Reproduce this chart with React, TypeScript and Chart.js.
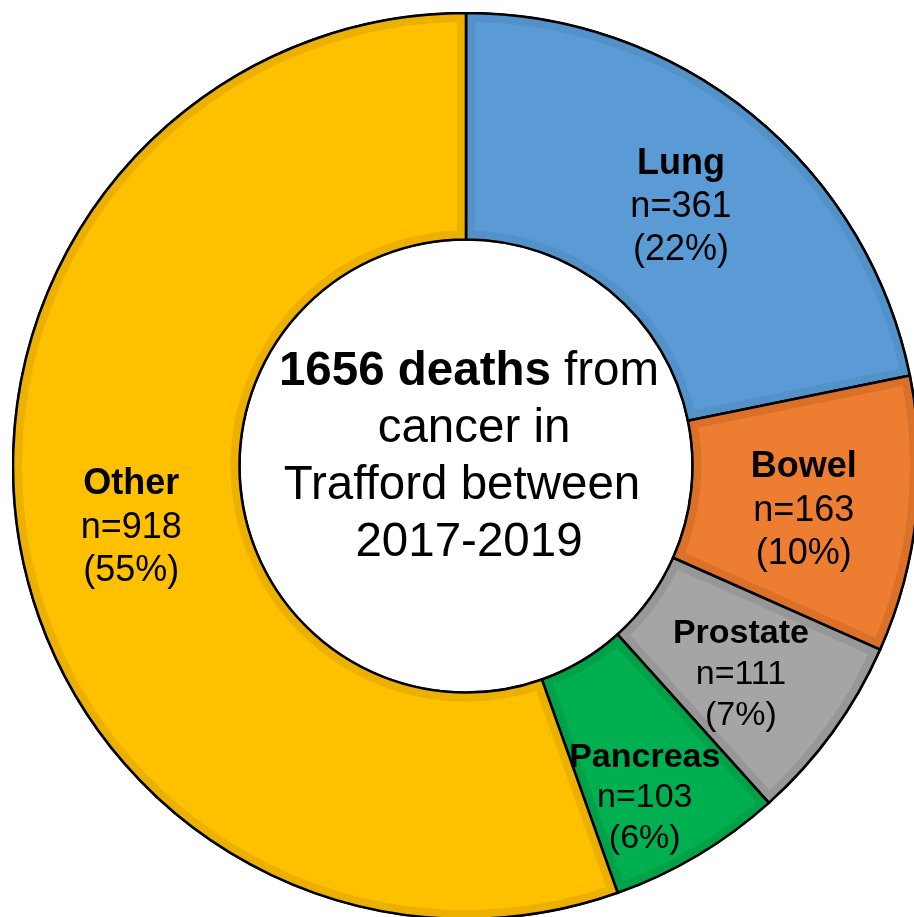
import React, { useEffect, useRef } from "react";
import { Chart, registerables } from "chart.js";

Chart.register(...registerables);

const categories = ["Lung", "Bowel", "Prostate", "Pancreas", "Other"];
const deaths = [361, 163, 111, 103, 918];
const colors = ["#5B9BD5", "#ED7D31", "#A5A5A5", "#00B050", "#FFC000"];
const bandColors = ["#5391C9", "#DB7129", "#979797", "#00A248", "#ECB100"];
const labelFontSizes = [36, 36, 34, 34, 36];
const labelNudgeX = [0, 0, 0, 5, 0];
const labelNudgeY = [0, 4, 5, 36, 0];
const centerLines = ["cancer in", "Trafford between", "2017-2019"];
const centerLineNudgeX = [0, 5, -7, 0];
const totalDeaths = deaths.reduce((a, b) => a + b, 0);

const FONT = '"Liberation Sans", Arial, sans-serif';

function arcPath(ctx: CanvasRenderingContext2D, a: any) {
  ctx.beginPath();
  ctx.arc(a.x, a.y, a.outerRadius, a.startAngle, a.endAngle);
  ctx.arc(a.x, a.y, a.innerRadius, a.endAngle, a.startAngle, true);
  ctx.closePath();
}

const decorPlugin = {
  id: "decor",
  afterDatasetsDraw(chart: any) {
    const ctx: CanvasRenderingContext2D = chart.ctx;
    const meta = chart.getDatasetMeta(0);
    meta.data.forEach((el: any, i: number) => {
      const a = el.getProps(["x", "y", "startAngle", "endAngle", "innerRadius", "outerRadius"], true);
      ctx.save();
      arcPath(ctx, a);
      ctx.clip();
      ctx.strokeStyle = bandColors[i];
      ctx.lineWidth = 18;
      ctx.lineJoin = "miter";
      ctx.stroke();
      ctx.restore();
      ctx.save();
      arcPath(ctx, a);
      ctx.strokeStyle = "#000000";
      ctx.lineWidth = 2.6;
      ctx.lineJoin = "miter";
      ctx.stroke();
      ctx.restore();
    });

    // segment labels
    meta.data.forEach((el: any, i: number) => {
      const a = el.getProps(["x", "y", "startAngle", "endAngle", "innerRadius", "outerRadius"], true);
      const mid = (a.startAngle + a.endAngle) / 2;
      const r = (a.innerRadius + a.outerRadius) / 2;
      const cx = a.x + Math.cos(mid) * r + labelNudgeX[i];
      const cy = a.y + Math.sin(mid) * r + labelNudgeY[i] + 4;
      const fs = labelFontSizes[i];
      const lh = fs * 1.2;
      const pct = Math.round((deaths[i] / totalDeaths) * 100);
      ctx.save();
      ctx.fillStyle = "#000000";
      ctx.textAlign = "center";
      ctx.textBaseline = "middle";
      ctx.font = `bold ${fs}px ${FONT}`;
      ctx.fillText(categories[i], cx, cy - lh);
      ctx.font = `${fs}px ${FONT}`;
      ctx.fillText(`n=${deaths[i]}`, cx, cy);
      ctx.fillText(`(${pct}%)`, cx, cy + lh);
      ctx.restore();
    });

    // center text
    const c = meta.data[0];
    const cx = c.x + 3;
    const cy = c.y;
    const fs = 47.5;
    const lh = 57;
    ctx.save();
    ctx.fillStyle = "#000000";
    ctx.textBaseline = "middle";
    ctx.textAlign = "left";
    const boldPart = `${totalDeaths} deaths`;
    const regPart = " from";
    ctx.font = `bold ${fs}px ${FONT}`;
    const wb = ctx.measureText(boldPart).width;
    ctx.font = `${fs}px ${FONT}`;
    const wr = ctx.measureText(regPart).width;
    const y0 = cy - 1.5 * lh - 9;
    const x0 = cx + centerLineNudgeX[0] - (wb + wr) / 2;
    ctx.font = `bold ${fs}px ${FONT}`;
    ctx.fillText(boldPart, x0, y0);
    ctx.font = `${fs}px ${FONT}`;
    ctx.fillText(regPart, x0 + wb, y0);
    ctx.textAlign = "center";
    centerLines.forEach((t, k) => {
      ctx.fillText(t, cx + centerLineNudgeX[k + 1], y0 + (k + 1) * lh);
    });
    ctx.restore();
  },
};

export default function App() {
  const ref = useRef<HTMLCanvasElement>(null);
  useEffect(() => {
    if (!ref.current) return;
    const chart = new Chart(ref.current, {
      type: "doughnut",
      data: {
        labels: categories,
        datasets: [
          {
            data: deaths,
            backgroundColor: colors,
            borderColor: "#000000",
            borderWidth: 2,
            hoverBorderWidth: 2,
            hoverOffset: 0,
            borderAlign: "center",
          },
        ],
      },
      options: {
        responsive: false,
        animation: false,
        cutout: "50%",
        layout: { padding: 0 },
        plugins: {
          legend: { display: false },
          tooltip: { enabled: false },
        },
        events: [],
      },
      plugins: [decorPlugin],
    });
    return () => chart.destroy();
  }, []);
  return (
    <div
      style={{
        position: "fixed",
        left: 0,
        top: 0,
        width: 914,
        height: 917,
        overflow: "hidden",
        background: "#ffffff",
      }}
    >
      <canvas
        ref={ref}
        width={908}
        height={908}
        style={{ position: "absolute", left: 12, top: 12, width: 908, height: 908 }}
      />
    </div>
  );
}
